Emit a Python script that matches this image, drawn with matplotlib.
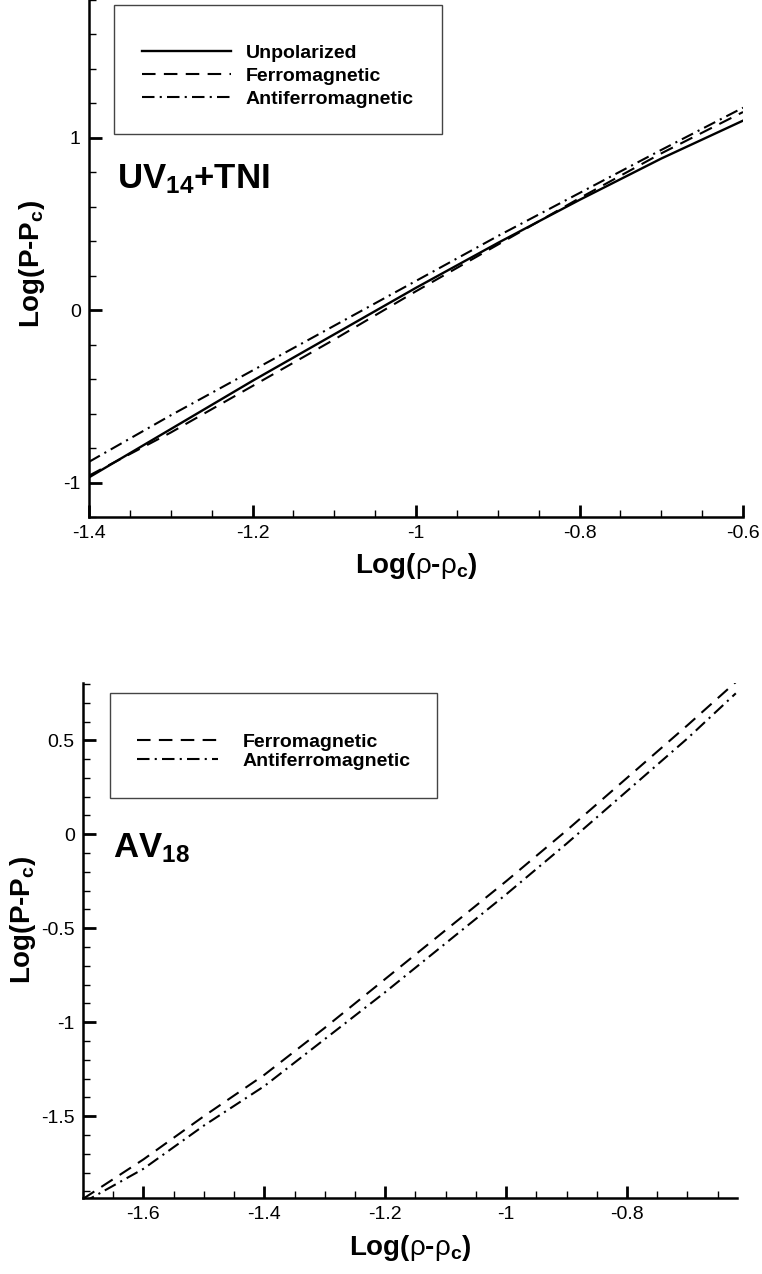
import matplotlib
matplotlib.use("Agg")
import matplotlib.pyplot as plt
from matplotlib.patches import Rectangle
from matplotlib.ticker import MultipleLocator, FormatStrFormatter

plt.rcParams['font.family'] = ['Liberation Sans', 'DejaVu Sans']
plt.rcParams['mathtext.fontset'] = 'custom'
plt.rcParams['mathtext.rm'] = 'Liberation Sans'
plt.rcParams['mathtext.bf'] = 'Liberation Sans:bold'
plt.rcParams['mathtext.it'] = 'Liberation Sans:italic'
plt.rcParams['axes.unicode_minus'] = False

# UV14+TNI panel
uv_x = [-1.4, -1.3, -1.2, -1.1, -1.0, -0.9, -0.8, -0.7, -0.6]
uv_unpol = [-0.97, -0.69, -0.41, -0.14, 0.13, 0.39, 0.64, 0.88, 1.10]
uv_ferro = [-0.96, -0.71, -0.44, -0.17, 0.11, 0.38, 0.65, 0.91, 1.15]
uv_anti = [-0.88, -0.61, -0.35, -0.09, 0.17, 0.43, 0.68, 0.93, 1.175]

# AV18 panel
av_x = [-1.7, -1.6, -1.5, -1.4, -1.3, -1.2, -1.1, -1.0, -0.9, -0.8, -0.7, -0.62]
av_ferro = [-1.94, -1.73, -1.50, -1.28, -1.03, -0.77, -0.51, -0.25, 0.02, 0.30, 0.58, 0.81]
av_anti = [-1.96, -1.78, -1.55, -1.34, -1.09, -0.84, -0.58, -0.32, -0.05, 0.23, 0.51, 0.75]

DASH = (6.5, 4)
DASHDOT = (6, 2.5, 1, 2.5)
LW = 1.5

xlab = r'Log($\mathrm{\rho}$-$\mathrm{\rho}_\mathbf{c}$)'
ylab = r'Log(P-P$_\mathbf{c}$)'


def style_axes(ax, ymin_step):
    for s in ['top', 'right']:
        ax.spines[s].set_visible(False)
    for s in ['left', 'bottom']:
        ax.spines[s].set_linewidth(1.8)
    ax.xaxis.set_major_locator(MultipleLocator(0.2))
    ax.xaxis.set_minor_locator(MultipleLocator(0.05))
    ax.yaxis.set_minor_locator(MultipleLocator(ymin_step))
    ax.xaxis.set_major_formatter(FormatStrFormatter('%g'))
    ax.yaxis.set_major_formatter(FormatStrFormatter('%g'))
    ax.tick_params(which='major', direction='in', length=9, width=2,
                   labelsize=14, pad=6, top=False, right=False)
    ax.tick_params(which='minor', direction='in', length=5, width=1,
                   top=False, right=False)


fig = plt.figure(figsize=(7.62, 12.74), dpi=100)

# ---- top panel
ax1 = fig.add_axes([0.1168, 0.5942, 0.8583, 0.4058])
ax1.plot(uv_x, uv_unpol, color='black', lw=1.7, label='Unpolarized')
ax1.plot(uv_x, uv_ferro, color='black', lw=LW, dashes=DASH, label='Ferromagnetic')
ax1.plot(uv_x, uv_anti, color='black', lw=LW, dashes=DASHDOT, label='Antiferromagnetic')
ax1.set_xlim(-1.4, -0.6)
ax1.set_ylim(-1.2, 1.8)
ax1.yaxis.set_major_locator(MultipleLocator(1))
style_axes(ax1, 0.2)
ax1.set_xlabel(xlab, fontsize=20, fontweight='bold')
ax1.set_ylabel(ylab, fontsize=20, fontweight='bold')
ax1.xaxis.set_label_coords(0.5, -0.065)
ax1.yaxis.set_label_coords(-0.064, 0.49)
ax1.add_patch(Rectangle((0.038, 0.741), 0.502, 0.249, transform=ax1.transAxes,
                        fill=False, edgecolor='#444444', lw=1.0))
ax1.legend(loc='upper left', bbox_to_anchor=(0.081, 0.914), frameon=False,
           borderpad=0, borderaxespad=0, handlelength=4.6, handletextpad=0.75,
           labelspacing=0.28, prop={'weight': 'bold', 'size': 14})
ax1.text(0.043, 0.636, r'UV$_\mathbf{14}$+TNI', transform=ax1.transAxes,
         fontsize=25, fontweight='bold', va='baseline', ha='left')

# ---- bottom panel
ax2 = fig.add_axes([0.1089, 0.0597, 0.8583, 0.4042])
ax2.plot(av_x, av_ferro, color='black', lw=LW, dashes=DASH, label='Ferromagnetic')
ax2.plot(av_x, av_anti, color='black', lw=LW, dashes=DASHDOT, label='Antiferromagnetic')
ax2.set_xlim(-1.7, -0.618)
ax2.set_ylim(-1.935, 0.805)
ax2.yaxis.set_major_locator(MultipleLocator(0.5))
style_axes(ax2, 0.1)
ax2.set_xlabel(xlab, fontsize=20, fontweight='bold')
ax2.set_ylabel(ylab, fontsize=20, fontweight='bold')
ax2.xaxis.set_label_coords(0.5, -0.068)
ax2.yaxis.set_label_coords(-0.069, 0.54)
ax2.add_patch(Rectangle((0.041, 0.777), 0.5, 0.204, transform=ax2.transAxes,
                        fill=False, edgecolor='#444444', lw=1.0))
ax2.legend(loc='upper left', bbox_to_anchor=(0.082, 0.902), frameon=False,
           borderpad=0, borderaxespad=0, handlelength=4.2, handletextpad=1.25,
           labelspacing=0.05, prop={'weight': 'bold', 'size': 14})
ax2.text(0.046, 0.662, r'AV$_\mathbf{18}$', transform=ax2.transAxes,
         fontsize=25, fontweight='bold', va='baseline', ha='left')

fig.savefig('out.png', dpi=100)
